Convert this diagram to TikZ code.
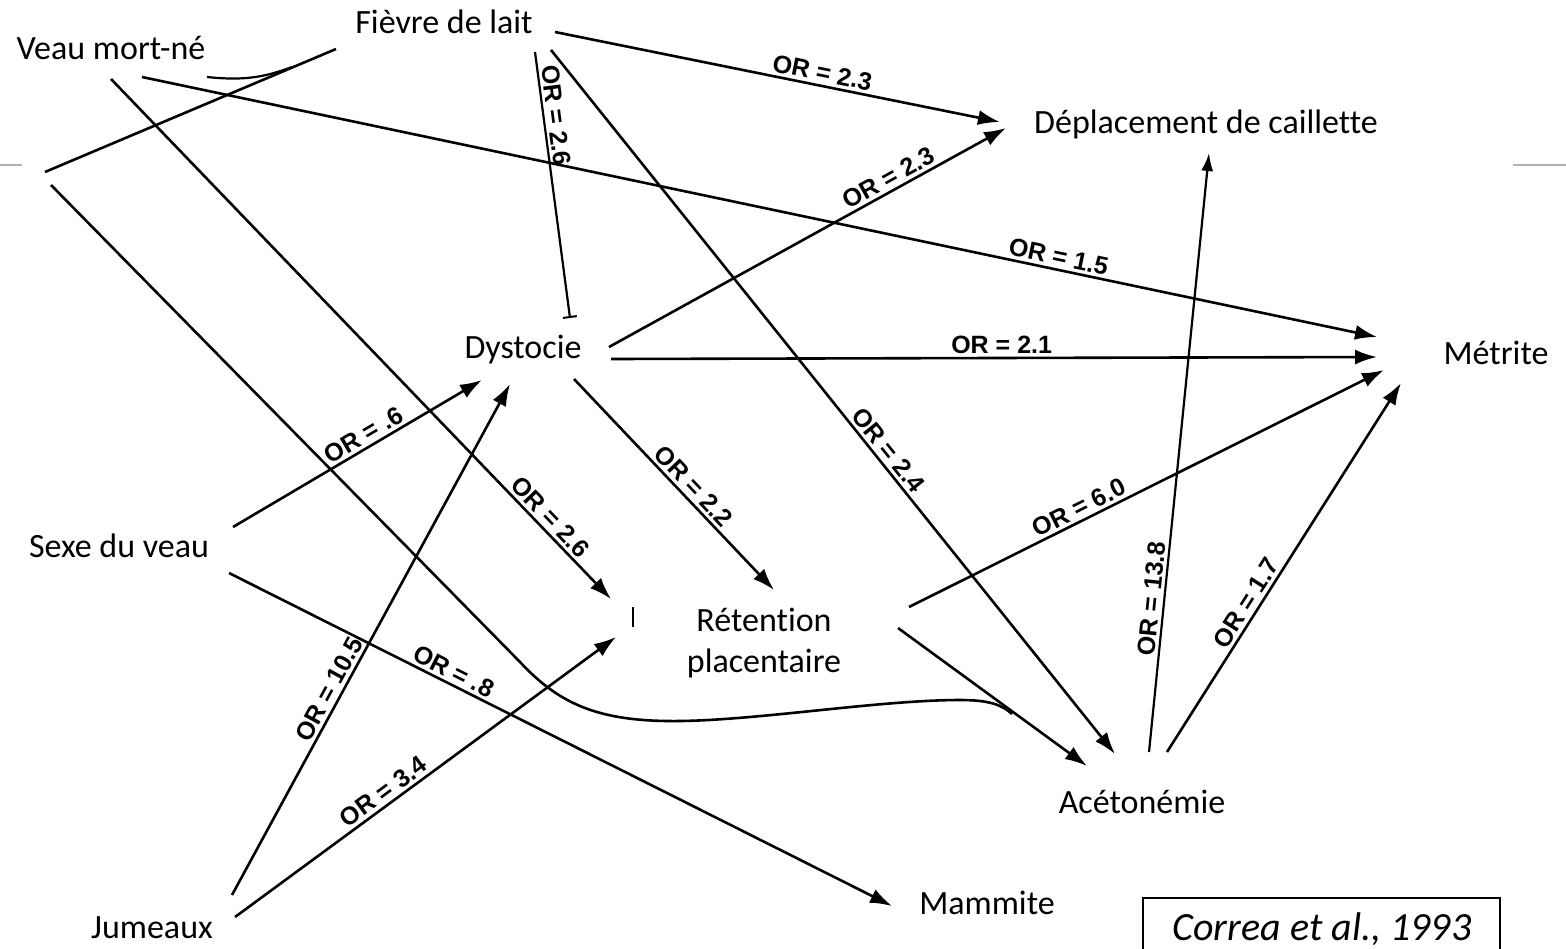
\documentclass[tikz,border=0pt]{standalone}
\usepackage{fontspec}
\setmainfont{Carlito}[Ligatures=NoCommon]
\newfontfamily\orfont{Liberation Sans}
\usetikzlibrary{arrows.meta}
\tikzset{
  lbl/.style={font=\fontsize{17}{20.5}\selectfont, inner sep=0pt},
  arr/.style={line width=1.3pt, -{Latex[length=11pt,width=7.5pt]}},
  plainline/.style={line width=1.3pt},
  orl/.style={font=\orfont\bfseries\fontsize{12.5}{14}\selectfont, sloped, above, inner sep=1.5pt},
}
\begin{document}
\begin{tikzpicture}[x=0.5pt,y=-0.5pt]
\useasboundingbox (0,0) rectangle (1566,948);
\fill[white] (0,0) rectangle (1566,948);
% gray slide rules
\draw[gray!60, line width=0.6pt] (0,165) -- (22,165);
\draw[gray!60, line width=0.6pt] (1513,165) -- (1566,165);

% text nodes
\node[lbl] (fievre) at (444,22) {Fièvre de lait};
\node[lbl] (veau) at (111,48) {Veau mort-né};
\node[lbl] (depl) at (1206,124) {Déplacement de caillette};
\node[lbl] (metrite) at (1496,353) {Métrite};
\node[lbl] (dysto) at (523,350) {Dystocie};
\node[lbl] (sexe) at (119,546) {Sexe du veau};
\node[lbl, align=center] (reten) at (764,643) {Rétention\\placentaire};
\node[lbl] (aceto) at (1142,802) {Acétonémie};
\node[lbl] (mammite) at (987,903) {Mammite};
\node[lbl] (jumeaux) at (152,928) {Jumeaux};
\node[font=\fontsize{20}{24}\selectfont\itshape, inner sep=0pt] (ref) at (1322,929) {Correa et al., 1993};
\draw[line width=0.8pt] (1143,960) -- (1143,898) -- (1500,898) -- (1500,960);

% end points of connectors
\coordinate (fievreA) at (555,32);
\coordinate (fievreB) at (535,52);
\coordinate (fievreC) at (551,50);
\coordinate (fievreD) at (336,49);
\coordinate (veauE) at (142,77);
\coordinate (veauF) at (111,79);
\coordinate (veauS) at (207,77);
\coordinate (swooshEnd) at (292,67);
\coordinate (leftD) at (45,172);
\coordinate (leftG) at (51,185);
\coordinate (deplA) at (1000,122);
\coordinate (deplH) at (1006,128);
\coordinate (deplQ) at (1209,153);
\coordinate (metriteE) at (1377,337);
\coordinate (metriteI) at (1377,357);
\coordinate (metriteO) at (1384,370);
\coordinate (metriteR) at (1401,383);
\coordinate (dystoB) at (570,318);
\coordinate (dystoH) at (609,347);
\coordinate (dystoI) at (611,359);
\coordinate (dystoJ) at (574,379);
\coordinate (dystoK) at (482,380);
\coordinate (dystoM) at (510,384);
\coordinate (sexeK) at (233,527);
\coordinate (sexeL) at (229,573);
\coordinate (jumM) at (232,895);
\coordinate (jumN) at (235,917);
\coordinate (retenF) at (611,599);
\coordinate (retenJ) at (774,590);
\coordinate (retenN) at (616,637);
\coordinate (retenO) at (909,607);
\coordinate (retenP) at (898,628);
\coordinate (acetoP) at (1087,766);
\coordinate (acetoC) at (1115,754);
\coordinate (acetoQ) at (1149,752);
\coordinate (acetoR) at (1167,752);
\coordinate (mammL) at (892,906);
\coordinate (join) at (1012,714);
\coordinate (tickA) at (633,607);
\coordinate (tickB) at (633,627);

% connectors
\draw[arr] (fievreA) -- node[orl, pos=0.595] {OR = 2.3} (deplA);
\draw[line width=1.1pt, -{Bar[width=7pt,line width=1pt]}] (fievreB) -- node[orl, pos=0.245] {OR = 2.6} (dystoB);
\draw[arr] (fievreC) -- node[orl, pos=0.58] {OR = 2.4} (acetoC);
\draw[plainline] (fievreD) -- (leftD);
\draw[line width=1.1pt] (veauS) .. controls (245,81) and (265,77) .. (swooshEnd);
\draw[arr] (veauE) -- node[orl, pos=0.74] {OR = 1.5} (metriteE);
\draw[arr] (veauF) -- node[orl, pos=0.86] {OR = 2.6} (retenF);
\draw[plainline] (leftG) -- (520,662) .. controls (560,705) and (600,722) .. (680,721)
   .. controls (760,720) and (880,700) .. (960,700) .. controls (990,700) and (1002,705) .. (join);
\draw[arr] (dystoH) -- node[orl, pos=0.72] {OR = 2.3} (deplH);
\draw[arr] (dystoI) -- node[orl, pos=0.51] {OR = 2.1} (metriteI);
\draw[arr] (dystoJ) -- node[orl, pos=0.55] {OR = 2.2} (retenJ);
\draw[arr] (sexeK) -- node[orl, pos=0.55] {OR = .6} (dystoK);
\draw[arr] (sexeL) -- node[orl, pos=0.33] {OR = .8} (mammL);
\draw[arr] (jumM) -- node[orl, pos=0.39] {OR = 10.5} (dystoM);
\draw[arr] (jumN) -- node[orl, pos=0.41] {OR = 3.4} (retenN);
\draw[arr] (retenO) -- node[orl, pos=0.37] {OR = 6.0} (metriteO);
\draw[arr] (retenP) -- (acetoP);
\draw[line width=1.1pt, -{Latex[length=9pt,width=6pt]}] (acetoQ) -- node[orl, pos=0.254] {OR = 13.8} (deplQ);
\draw[arr] (acetoR) -- node[orl, pos=0.385] {OR = 1.7} (metriteR);
\draw[line width=0.8pt] (tickA) -- (tickB);
\end{tikzpicture}
\end{document}
